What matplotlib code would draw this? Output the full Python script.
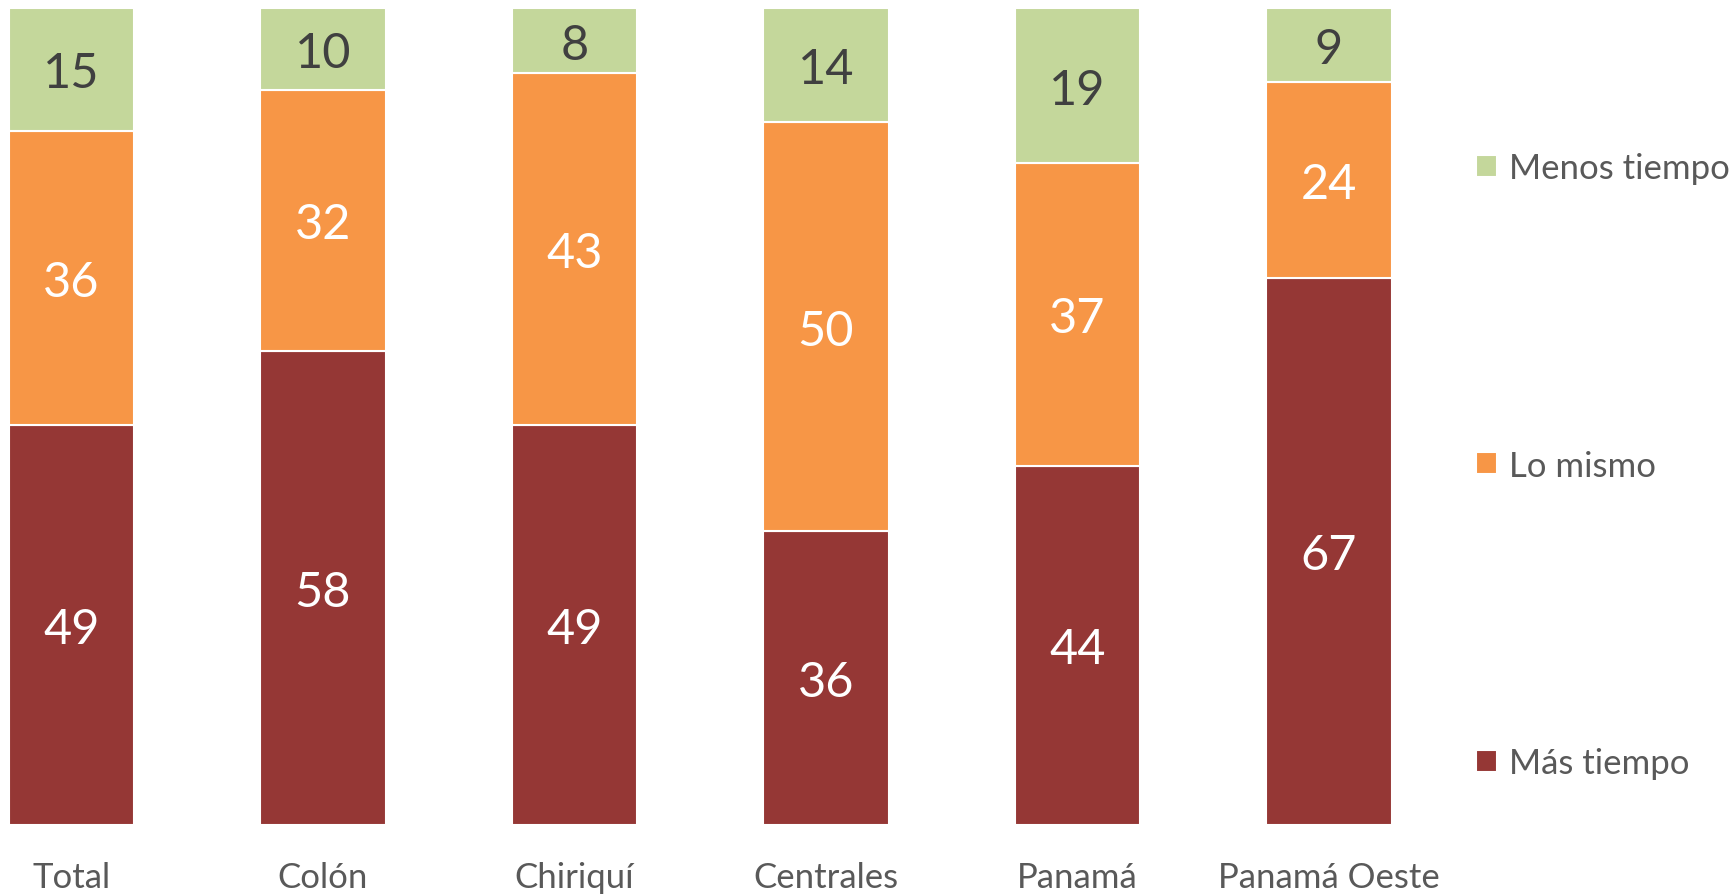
import numpy as np
import matplotlib
matplotlib.use("Agg")
import matplotlib.pyplot as plt

plt.rcParams['font.family'] = ['Lato', 'DejaVu Sans']

# datos
categorias = ['Total', 'Colón', 'Chiriquí', 'Centrales', 'Panamá', 'Panamá Oeste']
mas_tiempo = [49, 58, 49, 36, 44, 67]
lo_mismo = [36, 32, 43, 50, 37, 24]
menos_tiempo = [15, 10, 8, 14, 19, 9]

series = [
    ('Más tiempo', mas_tiempo, '#953735', 'white'),
    ('Lo mismo', lo_mismo, '#F79646', 'white'),
    ('Menos tiempo', menos_tiempo, '#C4D79B', '#404040'),
]

fig = plt.figure(figsize=(17.34, 8.95), dpi=100)
ax = fig.add_axes([0.0006, 0.0771, 0.8064, 0.9128])

x = np.arange(len(categorias))
bottom = np.zeros(len(categorias))
handles = []
for nombre, vals, color, txt_color in series:
    vals = np.array(vals)
    bars = ax.bar(x, vals, width=0.5, bottom=bottom, color=color,
                  edgecolor='white', linewidth=1.5, label=nombre)
    for xi, b, v in zip(x, bottom, vals):
        ax.text(xi, b + v / 2, str(v), ha='center', va='center_baseline',
                fontsize=35, color=txt_color)
    handles.append(bars)
    bottom += vals

ax.set_xlim(-0.28, 5.28)
ax.set_ylim(0, 100)
ax.set_xticks(x)
ax.set_xticklabels(categorias, fontsize=25, color='#595959')
ax.tick_params(axis='x', length=0, pad=26)
ax.set_yticks([])
for s in ax.spines.values():
    s.set_visible(False)

leg = fig.legend(handles[::-1], [h.get_label() for h in handles[::-1]],
                 loc='upper left', bbox_to_anchor=(1476 / 1734, 1 - 153 / 895),
                 frameon=False, fontsize=25, labelcolor='#595959',
                 handlelength=0.6, handleheight=0.6, handletextpad=0.35,
                 labelspacing=7.65, borderaxespad=0, borderpad=0)

fig.savefig('out.png', dpi=100)
